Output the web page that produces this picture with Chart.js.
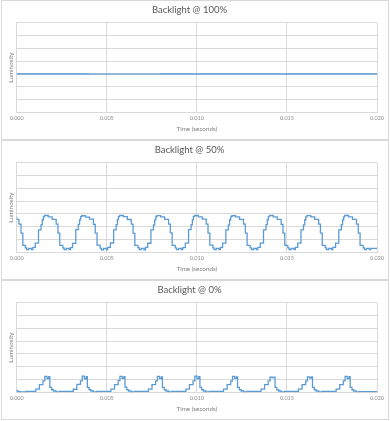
<!DOCTYPE html>
<html>
<head>
<meta charset="utf-8">
<script src="https://cdn.jsdelivr.net/npm/chart.js@4/dist/chart.umd.min.js"></script>
<style>
  html, body { margin: 0; padding: 0; background: #ffffff; }
  body { width: 390px; height: 421px; position: relative; overflow: hidden; }
  .panel { position: absolute; left: 1px; width: 388px; height: 140px; border: 1px solid #d9d9d9; box-sizing: border-box; background: #fff; }
  .panel canvas { display: block; }
</style>
</head>
<body>
<div class="panel" style="top:0px"><canvas id="c100"></canvas></div>
<div class="panel" style="top:140px"><canvas id="c50"></canvas></div>
<div class="panel" style="top:280px"><canvas id="c0"></canvas></div>
<script>
// ---- Data (time in seconds, luminosity in arbitrary units) ----
const titles = ["Backlight @ 100%", "Backlight @ 50%", "Backlight @ 0%"];
const xTickValues = [0.000, 0.005, 0.010, 0.015, 0.020];
const yMax = 7;

const t100 = [0.000, 0.004, 0.008, 0.012, 0.016, 0.020];
const v100 = [3.00, 3.00, 2.99, 3.00, 3.00, 3.00];

const t50 = [
  0.00000, 0.00012, 0.00024, 0.00034, 0.00048, 0.00055, 0.00067, 0.00082, 0.00090,
  0.00103, 0.00121, 0.00135, 0.00142, 0.00148, 0.00154, 0.00175, 0.00197, 0.00219, 0.00229, 0.00239, 0.00256, 0.00263, 0.00275, 0.00290, 0.00298,
  0.00310, 0.00328, 0.00342, 0.00349, 0.00355, 0.00361, 0.00382, 0.00404, 0.00426, 0.00436, 0.00446, 0.00463, 0.00470, 0.00482, 0.00497, 0.00505,
  0.00520, 0.00538, 0.00552, 0.00559, 0.00565, 0.00571, 0.00592, 0.00614, 0.00636, 0.00646, 0.00656, 0.00673, 0.00680, 0.00692, 0.00707, 0.00715,
  0.00727, 0.00745, 0.00759, 0.00766, 0.00772, 0.00778, 0.00799, 0.00821, 0.00843, 0.00853, 0.00863, 0.00880, 0.00887, 0.00899, 0.00914, 0.00922,
  0.00936, 0.00954, 0.00968, 0.00975, 0.00981, 0.00987, 0.01008, 0.01030, 0.01052, 0.01062, 0.01072, 0.01089, 0.01096, 0.01108, 0.01123, 0.01131,
  0.01143, 0.01161, 0.01175, 0.01182, 0.01188, 0.01194, 0.01215, 0.01237, 0.01259, 0.01269, 0.01279, 0.01296, 0.01303, 0.01315, 0.01330, 0.01338,
  0.01352, 0.01370, 0.01384, 0.01391, 0.01397, 0.01403, 0.01424, 0.01446, 0.01468, 0.01478, 0.01488, 0.01505, 0.01512, 0.01524, 0.01539, 0.01547,
  0.01560, 0.01578, 0.01592, 0.01599, 0.01605, 0.01611, 0.01632, 0.01654, 0.01676, 0.01686, 0.01696, 0.01713, 0.01720, 0.01732, 0.01747, 0.01755,
  0.01770, 0.01788, 0.01802, 0.01809, 0.01815, 0.01821, 0.01842, 0.01864, 0.01886, 0.01896, 0.01906, 0.01923, 0.01930, 0.01942, 0.01957, 0.01965,
  0.01985, 0.02000
];
const v50 = [
  2.78, 2.58, 2.20, 1.50, 0.55, 0.35, 0.22, 0.30, 0.21,
  0.38, 0.72, 1.75, 2.15, 2.55, 2.78, 2.88, 2.78, 2.58, 2.20, 1.50, 0.55, 0.35, 0.22, 0.30, 0.21,
  0.36, 0.70, 1.78, 2.18, 2.55, 2.80, 2.86, 2.76, 2.60, 2.18, 1.50, 0.56, 0.33, 0.20, 0.30, 0.22,
  0.38, 0.73, 1.76, 2.16, 2.56, 2.79, 2.88, 2.80, 2.57, 2.20, 1.48, 0.55, 0.36, 0.22, 0.31, 0.20,
  0.38, 0.71, 1.75, 2.15, 2.54, 2.78, 2.87, 2.78, 2.58, 2.20, 1.52, 0.55, 0.35, 0.21, 0.30, 0.22,
  0.37, 0.72, 1.77, 2.17, 2.56, 2.80, 2.88, 2.78, 2.59, 2.20, 1.50, 0.56, 0.34, 0.22, 0.30, 0.21,
  0.38, 0.72, 1.75, 2.15, 2.55, 2.78, 2.86, 2.78, 2.58, 2.20, 1.50, 0.55, 0.35, 0.22, 0.30, 0.21,
  0.38, 0.72, 1.76, 2.16, 2.55, 2.79, 2.88, 2.78, 2.58, 2.19, 1.50, 0.55, 0.35, 0.22, 0.30, 0.21,
  0.38, 0.72, 1.75, 2.15, 2.55, 2.78, 2.87, 2.78, 2.58, 2.20, 1.50, 0.55, 0.35, 0.22, 0.30, 0.21,
  0.38, 0.72, 1.76, 2.16, 2.55, 2.78, 2.88, 2.78, 2.58, 2.20, 1.50, 0.55, 0.35, 0.22, 0.30, 0.21,
  0.30, 0.30
];

const t0 = [
  0.00000, 0.00008, 0.00020, 0.00050,
  0.00106, 0.00126, 0.00146, 0.00156, 0.00168, 0.00178, 0.00184, 0.00194, 0.00204, 0.00218, 0.00236,
  0.00314, 0.00334, 0.00354, 0.00364, 0.00376, 0.00386, 0.00392, 0.00402, 0.00412, 0.00426, 0.00444,
  0.00523, 0.00543, 0.00563, 0.00573, 0.00585, 0.00595, 0.00601, 0.00611, 0.00621, 0.00635, 0.00653,
  0.00731, 0.00751, 0.00771, 0.00781, 0.00793, 0.00803, 0.00809, 0.00819, 0.00829, 0.00843, 0.00861,
  0.00939, 0.00959, 0.00979, 0.00989, 0.01001, 0.01011, 0.01017, 0.01027, 0.01037, 0.01051, 0.01069,
  0.01148, 0.01168, 0.01188, 0.01198, 0.01210, 0.01220, 0.01226, 0.01236, 0.01246, 0.01260, 0.01278,
  0.01356, 0.01376, 0.01396, 0.01406, 0.01418, 0.01428, 0.01434, 0.01444, 0.01454, 0.01468, 0.01486,
  0.01564, 0.01584, 0.01604, 0.01614, 0.01626, 0.01636, 0.01642, 0.01652, 0.01662, 0.01676, 0.01694,
  0.01773, 0.01793, 0.01813, 0.01823, 0.01835, 0.01845, 0.01851, 0.01861, 0.01871, 0.01885, 0.01903,
  0.01985, 0.02000
];
const v0 = [
  0.22, 0.10, 0.05, 0.03,
  0.08, 0.25, 0.60, 0.90, 1.25, 1.08, 1.22, 0.38, 0.20, 0.10, 0.03,
  0.08, 0.24, 0.62, 0.90, 1.26, 1.06, 1.22, 0.38, 0.20, 0.10, 0.03,
  0.08, 0.25, 0.60, 0.92, 1.24, 1.10, 1.22, 0.40, 0.20, 0.10, 0.03,
  0.08, 0.25, 0.60, 0.90, 1.25, 1.08, 1.20, 0.38, 0.20, 0.10, 0.03,
  0.08, 0.25, 0.60, 0.90, 1.26, 1.08, 1.22, 0.38, 0.20, 0.10, 0.03,
  0.08, 0.25, 0.60, 0.90, 1.24, 1.10, 1.20, 0.38, 0.20, 0.10, 0.03,
  0.08, 0.25, 0.60, 0.90, 1.18, 1.15, 1.18, 0.38, 0.20, 0.10, 0.03,
  0.08, 0.25, 0.60, 0.90, 1.20, 1.12, 1.20, 0.38, 0.20, 0.10, 0.03,
  0.08, 0.25, 0.60, 0.90, 1.25, 1.08, 1.22, 0.38, 0.20, 0.10, 0.03,
  0.06, 0.06
];

// ---- Styling ----
const FONT = "Lato, 'Open Sans', 'DejaVu Sans', sans-serif";
const GRID = "#d9d9d9";
const LINE = "#5b9bd5";

function makeChart(id, title, ts, vs) {
  const canvas = document.getElementById(id);
  canvas.width = 386; canvas.height = 138;
  canvas.style.width = "386px"; canvas.style.height = "138px";
  return new Chart(canvas, {
    type: "line",
    data: {
      datasets: [{
        data: ts.map((x, i) => ({ x: x, y: vs[i] })),
        borderColor: LINE,
        borderWidth: 1.3,
        pointRadius: 0,
        fill: false,
        stepped: "after",
        tension: 0
      }]
    },
    options: {
      responsive: false,
      animation: false,
      devicePixelRatio: 1,
      layout: { padding: { left: 0, right: 11, top: 0, bottom: 0 } },
      plugins: {
        legend: { display: false },
        tooltip: { enabled: false },
        title: {
          display: true,
          text: title,
          color: "#595959",
          font: { family: FONT, size: 9.5, weight: "normal" },
          padding: { top: 3, bottom: 7.5 }
        }
      },
      scales: {
        x: {
          type: "linear",
          min: 0, max: 0.02,
          afterBuildTicks: (s) => { s.ticks = xTickValues.map(v => ({ value: v })); },
          afterFit: (s) => { s.height = 26.7; },
          grid: { color: GRID, lineWidth: 1, drawTicks: false },
          border: { color: GRID },
          ticks: {
            color: "#8c8c8c",
            padding: 3,
            maxRotation: 0,
            font: { family: FONT, size: 5.5 },
            callback: (v) => Number(v).toFixed(3)
          },
          title: {
            display: true,
            text: "Time (seconds)",
            color: "#7f7f7f",
            font: { family: FONT, size: 6.3 },
            padding: { top: 0, bottom: 6.5 }
          }
        },
        y: {
          min: 0, max: yMax,
          afterFit: (s) => { s.width = 14.7; },
          grid: { color: GRID, lineWidth: 1, drawTicks: false },
          border: { display: true, color: GRID },
          ticks: { display: false, stepSize: 1 },
          title: {
            display: true,
            text: "Luminosity",
            color: "#7f7f7f",
            font: { family: FONT, size: 6.3 },
            padding: { top: 5, bottom: 0 }
          }
        }
      }
    }
  });
}

makeChart("c100", titles[0], t100, v100);
makeChart("c50", titles[1], t50, v50);
makeChart("c0", titles[2], t0, v0);
</script>
</body>
</html>
